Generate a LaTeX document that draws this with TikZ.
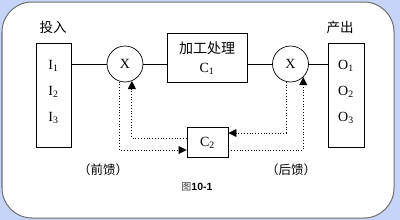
\documentclass[tikz,border=0pt]{standalone}
\usepackage{fontspec}
\setmainfont{Liberation Serif}
\newfontfamily\cjk{Noto Sans CJK SC}
\newfontfamily\arialb{Liberation Sans}
\usetikzlibrary{arrows.meta}
\definecolor{bgblue}{RGB}{198,212,248}
\definecolor{bordergray}{RGB}{110,110,110}
\tikzset{
  box/.style={draw=black, line width=0.9pt, inner sep=0pt},
  mult/.style={draw=black, line width=0.7pt, circle, minimum size=36pt, inner sep=0pt, font=\fontsize{14}{14}\selectfont},
  lat/.style={inner sep=0pt, font=\fontsize{14}{14}\selectfont},
  cjklab/.style={inner sep=0pt, font=\fontsize{13.5}{13.5}\cjk},
  wire/.style={draw=black, line width=0.9pt},
  fb/.style={draw=black, line width=0.8pt, dotted},
  tip/.style={-{Triangle[length=8pt,width=8pt]}},
}
\begin{document}
\begin{tikzpicture}[x=1pt,y=-1pt]
\fill[bgblue] (0,0) rectangle (400,220);
\useasboundingbox (0,0) rectangle (400,220);
\draw[bordergray, line width=1pt, fill=white, rounded corners=30pt] (2,2) rectangle (394,218);

% labels
\node[cjklab] (tin) at (53,27) {投入};
\node[cjklab] (tout) at (340,27) {产出};

% input box
\node[box, minimum width=35pt, minimum height=104pt] (in) at (53.5,95) {};
\node[lat] (i1) at (53.5,66) {I\textsubscript{1}};
\node[lat] (i2) at (53.5,92) {I\textsubscript{2}};
\node[lat] (i3) at (53.5,118) {I\textsubscript{3}};

% output box
\node[box, minimum width=36pt, minimum height=104pt] (out) at (346,95) {};
\node[lat] (o1) at (346,66) {O\textsubscript{1}};
\node[lat] (o2) at (346,92) {O\textsubscript{2}};
\node[lat] (o3) at (346,118) {O\textsubscript{3}};

% multipliers
\node[mult] (x1) at (125,64) {X};
\node[mult] (x2) at (290.5,64) {X};

% C1 box
\node[box, minimum width=80pt, minimum height=49pt] (c1) at (207,57.5) {};
\node[cjklab, font=\fontsize{14}{14}\cjk] (c1a) at (207,48) {加工处理};
\node[lat] (c1b) at (207,69) {C\textsubscript{1}};

% C2 box
\node[box, minimum width=41pt, minimum height=30pt] (c2) at (207.5,142) {};
\node[lat] (c2t) at (207.5,143) {C\textsubscript{2}};

% main wires
\draw[wire] (x1.west -| in.east) -- (x1.west);
\draw[wire] (x1.east) -- (x1.east -| c1.west);
\draw[wire] (x2.west -| c1.east) -- (x2.west);
\draw[wire] (x2.east) -- (x2.east -| out.west);

% feedforward / feedback
\draw[fb, tip] (x1.253) |- ([yshift=-8pt]c2.west);
\draw[fb, tip] ([yshift=4pt]c2.west) -| (x1.292);
\draw[fb, tip] (x2.256) |- ([yshift=9pt]c2.east);
\draw[fb, tip] ([yshift=-8pt]c2.east) -| (x2.314);

% captions
\node[cjklab, font=\fontsize{12.5}{12.5}\cjk] (ff) at (103,170) {（前馈）};
\node[cjklab, font=\fontsize{12.5}{12.5}\cjk] (fbk) at (291,170) {（后馈）};
\node[inner sep=0pt] (fig) at (197,187) {{\fontsize{10}{10}\cjk\color{black!75}图}{\fontsize{10.5}{10.5}\arialb\bfseries 10-1}};
\end{tikzpicture}
\end{document}
